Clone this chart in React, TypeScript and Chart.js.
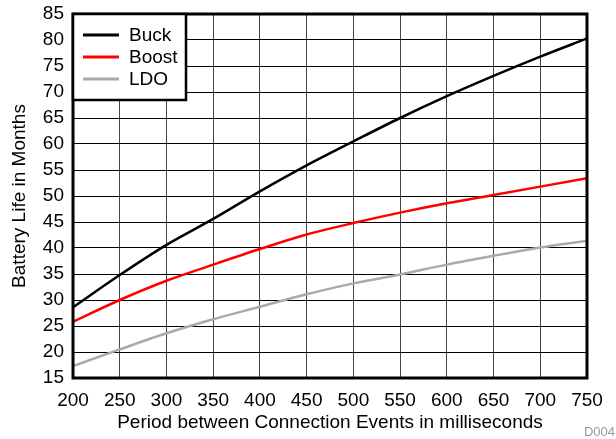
import React, { useEffect, useRef } from "react";
import { Chart, registerables } from "chart.js";

Chart.register(...registerables);

const periods = [200, 250, 300, 350, 400, 450, 500, 550, 600, 650, 700, 750];
const buck = [28.6, 34.8, 40.6, 45.6, 50.9, 55.9, 60.5, 65.0, 69.2, 73.1, 76.8, 80.3];
const boost = [25.8, 30.0, 33.7, 36.8, 39.8, 42.6, 44.8, 46.8, 48.6, 50.2, 51.8, 53.4];
const ldo = [17.3, 20.5, 23.6, 26.3, 28.7, 31.1, 33.2, 34.9, 36.8, 38.5, 40.1, 41.4];

const seriesNames = ["Buck", "Boost", "LDO"];
const seriesColors = ["#000000", "#ff0000", "#aaaaaa"];
const xTitle = "Period between Connection Events in milliseconds";
const yTitle = "Battery Life in Months";
const docId = "D004";

const FONT = "'Liberation Sans', Arial, sans-serif";
const FS = 19;

const extrasPlugin = {
  id: "extras",
  afterDraw(chart: any) {
    const ctx = chart.ctx;
    const a = chart.chartArea;
    ctx.save();
    // plot border
    ctx.strokeStyle = "#000";
    ctx.lineWidth = 3;
    ctx.strokeRect(a.left, a.top, a.right - a.left, a.bottom - a.top);
    // legend box
    const lx = a.left;
    const ly = a.top;
    const lw = 113;
    const lh = 86;
    ctx.fillStyle = "#fff";
    ctx.fillRect(lx, ly, lw, lh);
    ctx.lineWidth = 2.5;
    ctx.strokeStyle = "#000";
    ctx.strokeRect(lx, ly, lw, lh);
    chart.data.datasets.forEach((ds: any, i: number) => {
      const y = ly + 21 + i * 22;
      ctx.beginPath();
      ctx.strokeStyle = ds.borderColor;
      ctx.lineWidth = 3;
      ctx.moveTo(lx + 10, y);
      ctx.lineTo(lx + 46, y);
      ctx.stroke();
      ctx.fillStyle = "#000";
      ctx.font = `${FS}px ${FONT}`;
      ctx.textBaseline = "middle";
      ctx.textAlign = "left";
      ctx.fillText(ds.label, lx + 56, y + 1);
    });
    // doc id
    ctx.fillStyle = "#999";
    ctx.font = `13px ${FONT}`;
    ctx.textAlign = "right";
    ctx.textBaseline = "middle";
    ctx.fillText(docId, 615, 432);
    ctx.restore();
  },
};

export default function App() {
  const ref = useRef<HTMLCanvasElement | null>(null);
  useEffect(() => {
    if (!ref.current) return;
    const seriesData = [buck, boost, ldo];
    const chart = new Chart(ref.current, {
      type: "line",
      data: {
        datasets: seriesNames.map((name, i) => ({
          label: name,
          data: periods.map((p, j) => ({ x: p, y: seriesData[i][j] })),
          borderColor: seriesColors[i],
          backgroundColor: seriesColors[i],
          borderWidth: 2.5,
          pointRadius: 0,
          cubicInterpolationMode: "monotone" as const,
          fill: false,
        })),
      },
      options: {
        responsive: false,
        animation: false,
        layout: { padding: { top: 14, right: 29, left: 0, bottom: 0 } },
        plugins: {
          legend: { display: false },
          tooltip: { enabled: false },
        },
        scales: {
          x: {
            type: "linear",
            min: 200,
            max: 750,
            ticks: {
              stepSize: 50,
              color: "#000",
              font: { family: FONT, size: FS },
              padding: 11,
              maxRotation: 0,
              autoSkip: false,
            },
            grid: { color: "#444", lineWidth: 1, drawTicks: false },
            border: { display: false },
            title: {
              display: true,
              text: xTitle,
              color: "#000",
              font: { family: FONT, size: FS },
              padding: { top: 5, bottom: 5 },
            },
            afterFit(scale: any) {
              scale.height = 61;
              scale.paddingLeft = 0;
              scale.paddingRight = 0;
            },
          },
          y: {
            min: 15,
            max: 85,
            ticks: {
              stepSize: 5,
              color: "#000",
              font: { family: FONT, size: FS },
              padding: 9,
              autoSkip: false,
            },
            grid: { color: "#000", lineWidth: 1, drawTicks: false },
            border: { display: false },
            title: {
              display: true,
              text: yTitle,
              color: "#000",
              font: { family: FONT, size: FS },
              padding: { top: 8, bottom: 8 },
            },
            afterFit(scale: any) {
              scale.width = 73;
              scale.paddingTop = 0;
              scale.paddingBottom = 0;
            },
          },
        },
      },
      plugins: [extrasPlugin],
    });
    return () => chart.destroy();
  }, []);
  return (
    <div style={{ position: "absolute", left: 0, top: 0, width: 616, height: 439, background: "#fff" }}>
      <canvas ref={ref} width={616} height={439} />
    </div>
  );
}
